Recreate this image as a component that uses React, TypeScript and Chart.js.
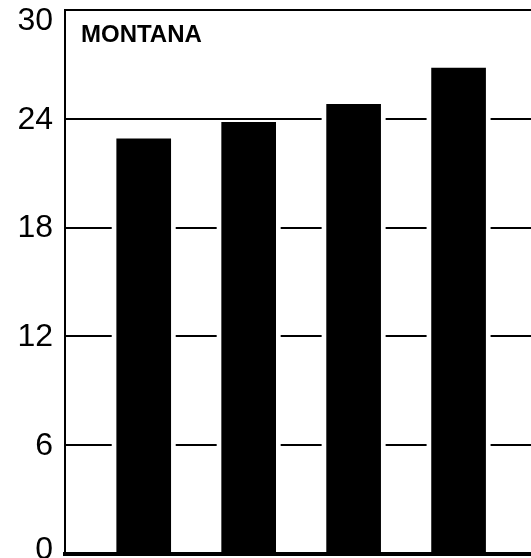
import React, { useEffect, useRef } from "react";
import { Chart, registerables } from "chart.js";

Chart.register(...registerables);

const title = "MONTANA";
const categories = ["1", "2", "3", "4"];
const values = [22.9, 23.8, 24.8, 26.8];
const yTicks = [0, 6, 12, 18, 24, 30];

export default function App() {
  const ref = useRef<HTMLCanvasElement | null>(null);

  useEffect(() => {
    document.body.style.margin = "0";
    const canvas = ref.current;
    if (!canvas) return;

    const gapPlugin = {
      id: "gapPlugin",
      beforeDatasetsDraw(chart: any) {
        const ctx = chart.ctx;
        const meta = chart.getDatasetMeta(0);
        const yScale = chart.scales.y;
        const base = yScale.getPixelForValue(0);
        ctx.save();
        ctx.fillStyle = "#ffffff";
        meta.data.forEach((bar: any) => {
          const p = bar.getProps(["x", "y", "width"], true);
          const gap = 5;
          ctx.fillRect(p.x - p.width / 2 - gap, p.y, p.width + gap * 2, base - 3 - p.y);
        });
        ctx.restore();
      },
      afterDraw(chart: any) {
        const ctx = chart.ctx;
        const yScale = chart.scales.y;
        const area = chart.chartArea;
        ctx.save();
        ctx.fillStyle = "#000000";
        ctx.font = "32px 'Liberation Sans', Arial, sans-serif";
        ctx.textAlign = "right";
        ctx.textBaseline = "middle";
        yTicks.forEach((v) => {
          let y = yScale.getPixelForValue(v);
          y = Math.min(Math.max(y, 20), 549);
          ctx.fillText(String(v), area.left - 12, y + 1);
        });
        ctx.font = "bold 24px 'Liberation Sans', Arial, sans-serif";
        ctx.textAlign = "left";
        ctx.textBaseline = "alphabetic";
        ctx.fillText(title, area.left + 16, area.top + 32);
        ctx.restore();
      },
    };

    const chart = new Chart(canvas, {
      type: "bar",
      data: {
        datasets: [
          {
            data: categories.map((c, i) => ({ x: i + 1, y: values[i] })),
            backgroundColor: "#000000",
            borderWidth: 0,
            barThickness: 54,
          },
        ],
      },
      options: {
        responsive: false,
        animation: false,
        layout: { padding: { top: 10, left: 0, right: 0, bottom: 0 } },
        plugins: { legend: { display: false }, tooltip: { enabled: false }, title: { display: false } },
        scales: {
          x: {
            type: "linear",
            offset: false,
            min: 0.25,
            max: 4.69,
            ticks: { display: false },
            grid: { display: false, drawTicks: false, offset: false },
            border: { display: true, color: "#000000", width: 4 },
            afterFit: (s: any) => {
              s.height = 4;
            },
          },
          y: {
            min: 0,
            max: 30,
            ticks: { display: false, stepSize: 6 },
            grid: { color: "#000000", lineWidth: 2, drawTicks: false },
            border: { display: true, color: "#000000", width: 2 },
            afterFit: (s: any) => {
              s.width = 65;
            },
          },
        },
      },
      plugins: [gapPlugin],
    } as any);

    return () => chart.destroy();
  }, []);

  return (
    <div style={{ width: 531, height: 558, background: "#ffffff" }}>
      <canvas ref={ref} width={531} height={558} style={{ display: "block" }} />
    </div>
  );
}
